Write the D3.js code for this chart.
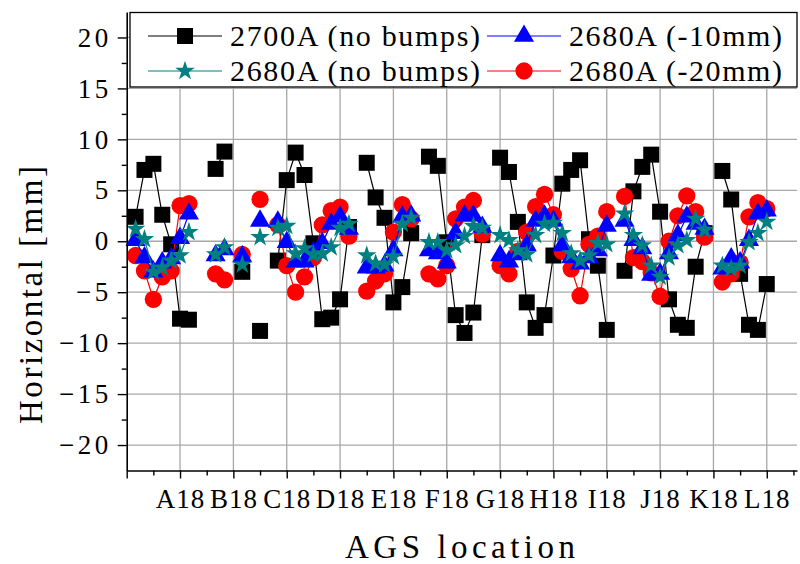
<!DOCTYPE html>
<html>
<head>
<meta charset="utf-8">
<script src="https://cdn.jsdelivr.net/npm/d3@7"></script>
<style>
  html, body { margin: 0; padding: 0; background: #fff; }
  svg { display: block; }
</style>
</head>
<body>
<svg id="chart" width="800" height="564" font-family="Liberation Serif"></svg>
<script>
// ---- data (BPM index 1..72 ; null = no reading) ----
const bpmIndex = d3.range(1, 73);
const black2700noBump = [2.4,7.0,7.6,2.6,-0.3,-7.6,-7.7,null,null,7.1,8.8,null,-3.0,null,-8.8,null,-1.9,6.0,8.7,6.5,-0.2,-7.65,-7.5,-5.7,1.4,null,7.7,4.3,2.3,-6.0,-4.5,0.8,null,8.3,7.4,-0.1,-7.25,-9.0,-7.0,0.6,null,8.2,6.8,1.9,-6.0,-8.5,-7.25,-1.4,5.65,7.0,7.95,0.2,-2.4,-8.7,null,-2.9,4.9,7.3,8.5,2.9,-5.7,-8.2,-8.5,-2.5,0.8,null,6.9,4.1,-3.2,-8.2,-8.7,-4.2];
const red2680m20 = [-1.4,-2.9,-5.7,-3.5,-2.9,3.5,3.7,null,null,-3.2,-3.8,null,-1.3,null,4.1,null,1.6,-2.4,-5.0,-3.5,-1.6,1.6,3.0,3.35,0.5,null,-4.9,-3.9,-3.2,0.9,3.6,2.2,null,-3.2,-3.7,-2.4,2.2,3.35,4.0,0.7,null,-2.4,-3.2,-1.0,0.9,3.4,4.6,2.6,-1.0,-2.7,-5.35,-0.3,0.5,2.9,null,4.4,-1.6,-2.0,-3.1,-5.4,0.0,2.5,4.45,2.9,0.4,null,-4.0,-3.2,-2.1,2.4,3.8,3.2];
const blue2680m10 = [0.1,-1.6,-3.0,-2.1,-1.7,0.3,2.7,null,null,-1.4,-0.8,null,-1.5,null,2.0,null,1.9,-0.1,-2.0,-2.0,-1.1,-0.2,1.7,2.4,1.2,null,-2.6,-2.6,-2.4,-0.9,2.4,2.5,null,-0.9,-1.2,-2.1,0.8,2.5,2.5,1.4,null,-1.4,-2.0,-1.3,-0.4,2.0,2.5,2.0,-0.4,-1.6,-2.2,-1.6,-0.9,1.5,null,2.0,0.1,-0.7,-3.3,-3.2,-1.2,0.6,2.4,1.7,1.2,null,-2.7,-1.7,-2.1,0.1,2.7,3.0];
const teal2680noBump = [1.2,0.2,-3.0,-2.6,-1.9,-1.4,0.9,null,null,-1.3,-0.6,null,-2.3,null,0.4,null,1.3,1.5,-1.2,-0.7,-1.3,-1.2,-0.6,1.3,1.7,null,-1.4,-2.2,-2.3,-1.5,1.7,2.3,null,-0.1,-0.1,-0.9,-0.4,0.5,1.5,1.3,null,0.6,0.1,-0.9,-1.3,0.6,1.7,1.8,0.8,-1.2,-1.9,-1.4,-0.2,-0.3,null,2.7,0.6,-0.4,-2.4,-3.5,-1.6,-0.4,0.1,2.2,1.1,null,-2.4,-2.7,-2.4,-0.1,0.8,1.9];

const xTickValues = [0,6,12,18,24,30,36,42,48,54,60,66,72];
const xTickLabels = ["","A18","B18","C18","D18","E18","F18","G18","H18","I18","J18","K18","L18"];
const xMinorTicks = [3,9,15,21,27,33,39,45,51,57,63,69,75];
const yTickValues = [-20,-15,-10,-5,0,5,10,15,20];
const yMinorTicks = [-17.5,-12.5,-7.5,-2.5,2.5,7.5,12.5,17.5];

const series = [
  {name:"2700A (no bumps)", values:black2700noBump, color:"#000000", symbol:d3.symbolSquare, size:256},
  {name:"2680A (-20mm)",    values:red2680m20,     color:"#ff0000", symbol:d3.symbolCircle, size:235},
  {name:"2680A (-10mm)",    values:blue2680m10,    color:"#0000ff", symbol:d3.symbolTriangle, size:175},
  {name:"2680A (no bumps)", values:teal2680noBump, color:"#008080", symbol:d3.symbolStar, size:118}
];

const FONT = "Liberation Serif";

// ---- layout ----
const pLeft = 126.7, pRight = 797, pTop = 12, pBottom = 470.5;
const svg = d3.select("#chart");
const x = d3.scaleLinear().domain([0, 75.4]).range([pLeft, pRight]);
const y = d3.scaleLinear().domain([-22.5, 22.5]).range([pBottom, pTop]);

// grid
const grid = svg.append("g").attr("stroke", "#a8a8a8").attr("stroke-width", 1.3);
grid.selectAll("line.v").data(xTickValues.slice(1)).join("line").attr("class", "v")
  .attr("x1", d => x(d)).attr("x2", d => x(d)).attr("y1", pTop).attr("y2", pBottom);
grid.selectAll("line.h").data(yTickValues).join("line").attr("class", "h")
  .attr("x1", pLeft).attr("x2", pRight).attr("y1", d => y(d)).attr("y2", d => y(d));

// series
const line = d3.line().defined(d => d[1] !== null).x(d => x(d[0])).y(d => y(d[1]));
series.forEach(s => {
  const pts = bpmIndex.map((b, i) => [b, s.values[i]]);
  svg.append("path").datum(pts).attr("d", line)
    .attr("fill", "none").attr("stroke", s.color).attr("stroke-width", 1.2);
  svg.append("g").selectAll("path").data(pts.filter(p => p[1] !== null)).join("path")
    .attr("transform", p => `translate(${x(p[0])},${y(p[1])})`)
    .attr("d", d3.symbol(s.symbol, s.size))
    .attr("fill", s.color);
});

// axes
const yAxis = svg.append("g").attr("transform", `translate(${pLeft},0)`)
  .call(d3.axisLeft(y).tickValues(yTickValues).tickSize(9).tickSizeOuter(0).tickPadding(6).tickFormat(d3.format("d")));
svg.append("g").attr("transform", `translate(${pLeft},0)`)
  .call(d3.axisLeft(y).tickValues(yMinorTicks).tickSize(5).tickSizeOuter(0).tickFormat(""))
  .select(".domain").remove();
const xAxis = svg.append("g").attr("transform", `translate(0,${pBottom})`)
  .call(d3.axisBottom(x).tickValues(xTickValues).tickSize(8).tickSizeOuter(0).tickPadding(10)
    .tickFormat((d, i) => xTickLabels[i]));
svg.append("g").attr("transform", `translate(0,${pBottom})`)
  .call(d3.axisBottom(x).tickValues(xMinorTicks).tickSize(5).tickSizeOuter(0).tickFormat(""))
  .select(".domain").remove();
svg.selectAll(".domain").attr("stroke-width", 1.6);
svg.selectAll(".tick line").attr("stroke-width", 1.4);
yAxis.attr("font-family", FONT);
xAxis.attr("font-family", FONT);
yAxis.selectAll("text").attr("font-family", FONT).attr("font-size", 27).attr("letter-spacing", "3.5px").attr("fill", "#000");
xAxis.selectAll("text").attr("font-family", FONT).attr("font-size", 27).attr("letter-spacing", "1px").attr("fill", "#000");

// axis titles
svg.append("text").attr("x", 460).attr("y", 558).attr("text-anchor", "middle").attr("font-family", FONT)
  .attr("font-size", 33).attr("textLength", 230).attr("lengthAdjust", "spacing").text("AGS location");
svg.append("text").attr("transform", "translate(42,295) rotate(-90)").attr("text-anchor", "middle").attr("font-family", FONT)
  .attr("font-size", 33).attr("textLength", 258).attr("lengthAdjust", "spacing").text("Horizontal [mm]");

// legend
const lg = svg.append("g");
lg.append("rect").attr("x", 130).attr("y", 12.5).attr("width", 667).attr("height", 74.5)
  .attr("fill", "#fff").attr("stroke", "#000").attr("stroke-width", 1.3);
const legendItems = [
  {s: series[0], lx: 148, ly: 36},
  {s: series[2], lx: 487, ly: 36},
  {s: series[3], lx: 148, ly: 71},
  {s: series[1], lx: 487, ly: 71}
];
legendItems.forEach(it => {
  lg.append("line").attr("x1", it.lx).attr("x2", it.lx + 74).attr("y1", it.ly).attr("y2", it.ly)
    .attr("stroke", it.s.color).attr("stroke-width", 1.2);
  lg.append("path").attr("transform", `translate(${it.lx + 37},${it.ly})`)
    .attr("d", d3.symbol(it.s.symbol, it.s.size)).attr("fill", it.s.color);
  const tw = it.s.name.indexOf("bumps") >= 0 ? 250 : 213;
  lg.append("text").attr("x", it.lx + 82).attr("y", it.ly + 10).attr("font-family", FONT).attr("font-size", 30)
    .attr("textLength", tw).attr("lengthAdjust", "spacing").text(it.s.name);
});
</script>
</body>
</html>
